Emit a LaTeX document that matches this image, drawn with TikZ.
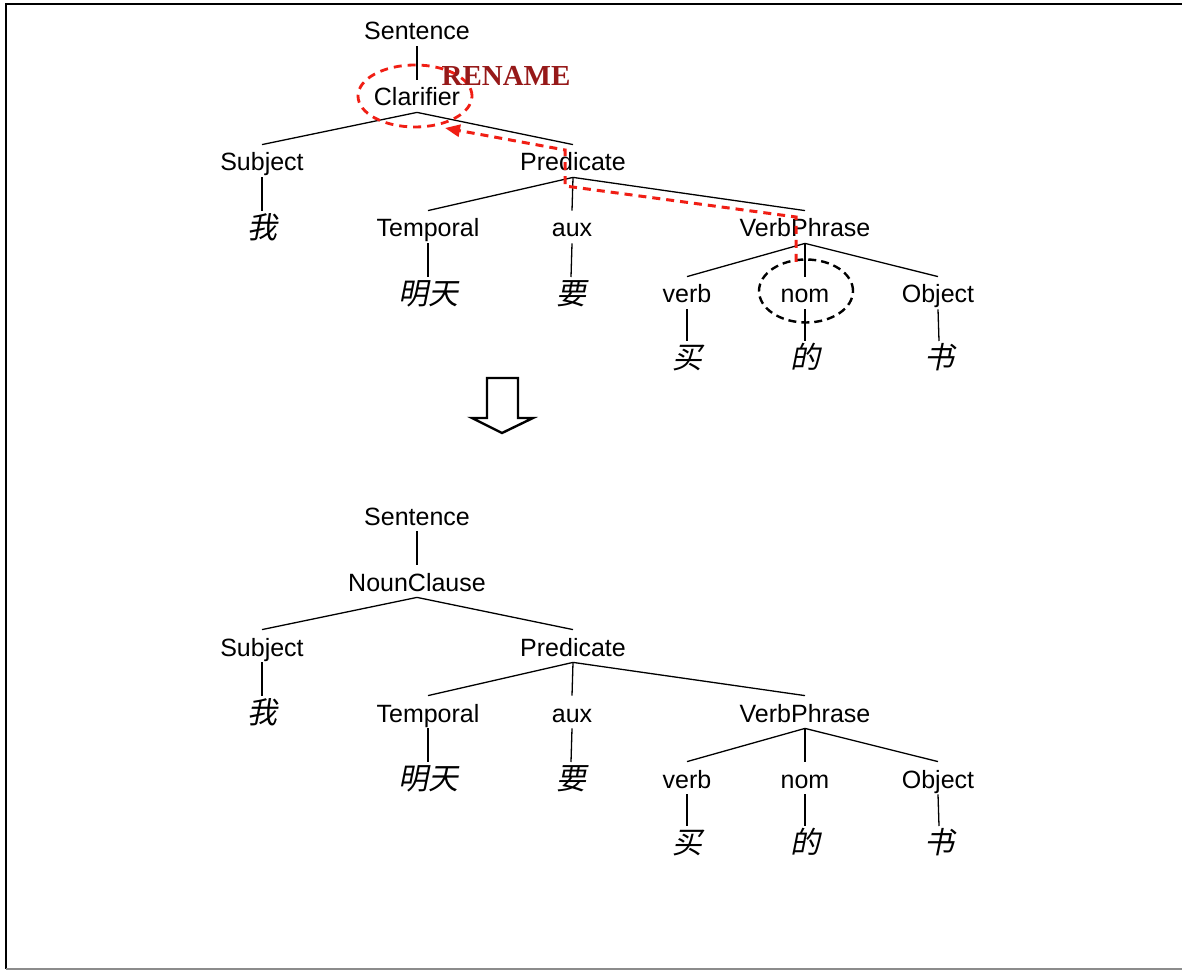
\documentclass[tikz,border=0pt]{standalone}
\usepackage{fontspec}
\setmainfont{Liberation Sans}
\newfontfamily\cjk[FakeSlant=0.2]{Noto Sans CJK SC}
\newfontfamily\tnr{Liberation Serif}
\usetikzlibrary{shapes.geometric,arrows.meta}
\definecolor{rdash}{RGB}{240,30,20}
\definecolor{renamec}{RGB}{150,25,25}
\tikzset{
  lbl/.style={font=\fontsize{12.5}{15}\selectfont, text height=10.5pt, text depth=0.5pt, inner xsep=1pt, inner ysep=2.5pt},
  leaf/.style={font=\fontsize{15}{17}\selectfont\cjk, text height=12.5pt, text depth=1.1pt, inner xsep=1pt, inner ysep=1pt},
  br/.style={line width=0.65pt, black},
  redpath/.style={draw=rdash, line width=1.5pt, dash pattern=on 4pt off 3pt, -{Triangle[length=7.5pt,width=6pt]}, rdash},
  redell/.style={ellipse, draw=rdash, line width=1.4pt, dash pattern=on 4pt off 3pt},
  blkell/.style={ellipse, draw=black, line width=1.2pt, dash pattern=on 4pt off 2.5pt},
}
\newcommand{\mytree}[1]{%
  \node[lbl] (sent) at (417,30) {Sentence};
  \node[lbl] (clar) at (417,96) {#1};
  \node[lbl] (subj) at (262,161) {Subject};
  \node[lbl] (pred) at (573,161) {Predicate};
  \node[leaf] (wo) at (262,227) {我};
  \node[lbl] (temp) at (428,227) {Temporal};
  \node[lbl] (aux) at (572,227) {aux};
  \node[lbl] (vp) at (805,227) {VerbPhrase};
  \node[leaf] (mt) at (428,293) {明天};
  \node[leaf] (yao) at (571,293) {要};
  \node[lbl] (verb) at (687,293) {verb};
  \node[lbl] (nom) at (805,293) {nom};
  \node[lbl] (obj) at (938,293) {Object};
  \node[leaf] (mai) at (687,357) {买};
  \node[leaf] (de) at (805,357) {的};
  \node[leaf] (shu) at (939,357) {书};
  \draw[br] (sent.south) -- (clar.north);
  \draw[br] (clar.south) -- (subj.north);
  \draw[br] (clar.south) -- (pred.north);
  \draw[br] (subj.south) -- (wo.north);
  \draw[br] (pred.south) -- (temp.north);
  \draw[br] (pred.south) -- (aux.north);
  \draw[br] (pred.south) -- (vp.north);
  \draw[br] (temp.south) -- (mt.north);
  \draw[br] (aux.south) -- (yao.north);
  \draw[br] (vp.south) -- (verb.north);
  \draw[br] (vp.south) -- (nom.north);
  \draw[br] (vp.south) -- (obj.north);
  \draw[br] (verb.south) -- (mai.north);
  \draw[br] (nom.south) -- (de.north);
  \draw[br] (obj.south) -- (shu.north);
}
\begin{document}
\begin{tikzpicture}[x=0.5pt,y=-0.5pt]
\useasboundingbox (0,0) rectangle (1182,972);
\fill[white] (0,0) rectangle (1182,972);
% frame
\draw[line width=1.1pt, black] (1182,4) -- (6,4) -- (6,969);
\draw[line width=1pt, black!45] (6,969) -- (1182,969);
% top tree
\begin{scope}[name prefix=t-]
  \mytree{Clarifier}
  \node[redell, minimum width=57pt, minimum height=31pt] (clarell) at (415,96) {};
  \node[blkell, minimum width=47pt, minimum height=31.5pt] (nomell) at (806,291) {};
  \node[font=\fontsize{14.5}{16}\tnr\bfseries, text=renamec, inner sep=0pt] (ren) at (506,76) {RENAME};
  \coordinate (r1) at (796,262);
  \coordinate (r2) at (796,217);
  \coordinate (r3) at (565,186);
  \coordinate (r4) at (565,150);
  \coordinate (r5) at (445,128);
  \draw[redpath] (r1) -- (r2) -- (r3) -- (r4) -- (r5);
\end{scope}
% hollow arrow
\draw[line width=1.2pt, black, line join=miter, fill=white] (487,378) -- (518,378) -- (518,418) -- (533,418) -- (502,433) -- (472,418) -- (487,418) -- cycle;
% bottom tree
\begin{scope}[name prefix=b-, shift={(0,485)}]
  \mytree{NounClause}
\end{scope}
\end{tikzpicture}
\end{document}
